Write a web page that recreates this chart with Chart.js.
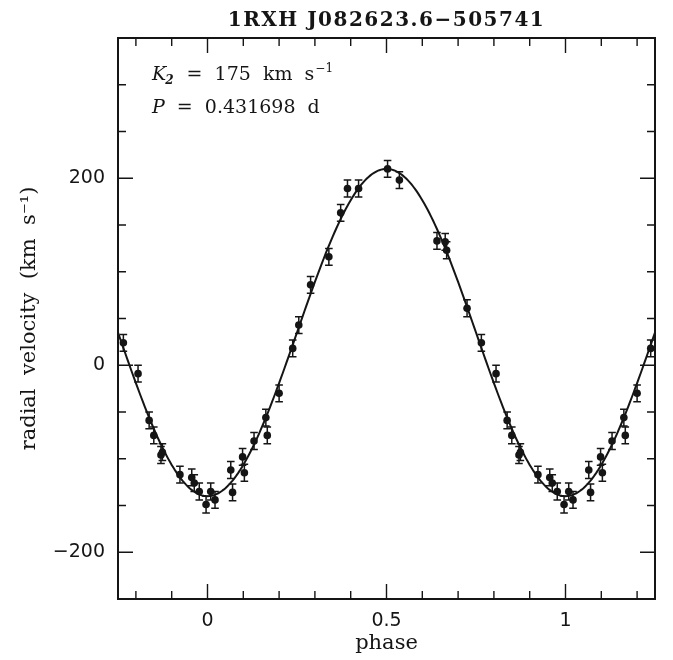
<!DOCTYPE html>
<html>
<head>
<meta charset="utf-8">
<script src="https://cdn.jsdelivr.net/npm/chart.js@4.4.0/dist/chart.umd.min.js"></script>
<style>
  html, body { margin: 0; padding: 0; background: #fff; }
  #wrap { width: 673px; height: 660px; }
</style>
</head>
<body>
<div id="wrap"><canvas id="rv"></canvas></div>
<script>
// orbital phase of each spectrum (folded into 0..1) and its radial velocity
const phases = [0.009, 0.021, 0.065, 0.070, 0.098, 0.103, 0.130, 0.163, 0.167, 0.200,
                0.238, 0.255, 0.288, 0.339, 0.372, 0.391, 0.422, 0.503, 0.536, 0.641,
                0.664, 0.668, 0.725, 0.765, 0.806, 0.837, 0.850, 0.870, 0.874, 0.923,
                0.956, 0.963, 0.977, 0.996];
const velocities = [-135, -144, -112, -136, -98, -115, -81, -56, -75, -30,
                    18, 43, 86, 116, 163, 189, 189, 210, 198, 133,
                    132, 123, 61, 24, -9, -59, -75, -96, -93, -117,
                    -120, -126, -135, -149];
const errors = [9, 9, 9, 9, 9, 9, 9, 9, 9, 9,
                9, 9, 9, 9, 9, 9, 9, 9, 9, 9,
                9, 9, 9, 9, 9, 9, 9, 9, 9, 9,
                9, 9, 9, 9];

// sine fit: v = gamma - K2 cos(2 pi phase)
const gamma = 35;
const K2 = 175;

const xMajor = [0, 0.5, 1];
const xMinor = [-0.2, -0.1, 0.1, 0.2, 0.3, 0.4, 0.6, 0.7, 0.8, 0.9, 1.1, 1.2];
const yMajor = [-200, 0, 200];
const yMinor = [-150, -100, -50, 50, 100, 150, 250, 300];

const title = '1RXH J082623.6\u2212505741';
const serif = '"DejaVu Serif", serif';
const sans = '"DejaVu Sans", sans-serif';
const ink = '#151515';

// plot each point once more one cycle earlier / later if it falls in -0.25..1.25
const pts = [];
phases.forEach(function (p, i) {
  [p - 1, p, p + 1].forEach(function (q) {
    if (q >= -0.25 && q <= 1.25) pts.push({ x: q, y: velocities[i], e: errors[i] });
  });
});

const fit = [];
for (let i = 0; i <= 300; i++) {
  const q = -0.25 + i * 1.5 / 300;
  fit.push({ x: q, y: gamma - K2 * Math.cos(2 * Math.PI * q) });
}

const frame = {
  id: 'frame',
  beforeDatasetsDraw(chart) {
    const ctx = chart.ctx, x = chart.scales.x, y = chart.scales.y;
    ctx.save();
    ctx.strokeStyle = ink;
    ctx.lineWidth = 1.5;
    pts.forEach(function (p) {
      const px = x.getPixelForValue(p.x);
      const top = y.getPixelForValue(p.y + p.e);
      const bot = y.getPixelForValue(p.y - p.e);
      ctx.beginPath();
      ctx.moveTo(px, top); ctx.lineTo(px, bot);
      ctx.moveTo(px - 3.8, top); ctx.lineTo(px + 3.8, top);
      ctx.moveTo(px - 3.8, bot); ctx.lineTo(px + 3.8, bot);
      ctx.stroke();
    });
    ctx.restore();
  },
  afterDraw(chart) {
    const ctx = chart.ctx, a = chart.chartArea;
    const x = chart.scales.x, y = chart.scales.y;
    ctx.save();
    ctx.strokeStyle = ink;
    ctx.lineWidth = 2;
    ctx.strokeRect(a.left, a.top, a.right - a.left, a.bottom - a.top);

    ctx.lineWidth = 1.4;
    ctx.beginPath();
    function xt(v, len) {
      const px = x.getPixelForValue(v);
      ctx.moveTo(px, a.bottom); ctx.lineTo(px, a.bottom - len);
      ctx.moveTo(px, a.top); ctx.lineTo(px, a.top + len);
    }
    function yt(v, len) {
      const py = y.getPixelForValue(v);
      ctx.moveTo(a.left, py); ctx.lineTo(a.left + len, py);
      ctx.moveTo(a.right, py); ctx.lineTo(a.right - len, py);
    }
    xMajor.forEach(v => xt(v, 15));
    xMinor.forEach(v => xt(v, 8));
    yMajor.forEach(v => yt(v, 15));
    yMinor.forEach(v => yt(v, 8));
    ctx.stroke();

    // title
    ctx.fillStyle = ink;
    ctx.font = 'bold 20px ' + serif;
    ctx.letterSpacing = '1.5px';
    ctx.textAlign = 'center';
    ctx.textBaseline = 'alphabetic';
    ctx.fillText(title, (a.left + a.right) / 2, 26);
    ctx.letterSpacing = '0px';

    // annotations
    ctx.textAlign = 'left';
    let cx = 152;
    ctx.font = 'italic 19px ' + serif;
    ctx.fillText('K', cx, 80);
    cx += ctx.measureText('K').width;
    ctx.font = 'italic bold 12px ' + serif;
    ctx.fillText('2', cx - 1, 84);
    cx += ctx.measureText('2').width;
    ctx.font = '19px ' + serif;
    ctx.fillText('  =  175  km  s', cx, 80);
    cx += ctx.measureText('  =  175  km  s').width;
    ctx.font = '12px ' + serif;
    ctx.fillText('\u22121', cx + 1, 72);

    cx = 152;
    ctx.font = 'italic 19px ' + serif;
    ctx.fillText('P', cx, 113);
    cx += ctx.measureText('P').width;
    ctx.font = '19px ' + serif;
    ctx.fillText('  =  0.431698  d', cx, 113);
    ctx.restore();
  }
};

new Chart(document.getElementById('rv'), {
  type: 'scatter',
  data: {
    datasets: [
      {
        data: pts,
        pointRadius: 3.8,
        pointBackgroundColor: ink,
        pointBorderWidth: 0,
        showLine: false
      },
      {
        data: fit,
        showLine: true,
        pointRadius: 0,
        borderColor: ink,
        borderWidth: 2,
        tension: 0
      }
    ]
  },
  options: {
    responsive: true,
    maintainAspectRatio: false,
    animation: false,
    layout: { padding: { top: 38, right: 18, left: 0, bottom: 0 } },
    plugins: { legend: { display: false }, tooltip: { enabled: false } },
    scales: {
      x: {
        type: 'linear',
        min: -0.25,
        max: 1.25,
        afterBuildTicks: s => { s.ticks = xMajor.map(v => ({ value: v })); },
        afterFit: s => { s.height = 61; },
        grid: { display: false, drawTicks: false },
        border: { display: false },
        ticks: { autoSkip: false, maxRotation: 0, padding: 11, color: ink,
                 font: { family: sans, size: 19 }, callback: v => String(v) },
        title: { display: true, text: 'phase', color: ink,
                 font: { family: serif, size: 21 }, padding: { top: 0, bottom: 4 } }
      },
      y: {
        type: 'linear',
        min: -250,
        max: 350,
        afterBuildTicks: s => { s.ticks = yMajor.map(v => ({ value: v })); },
        afterFit: s => { s.width = 118; },
        grid: { display: false, drawTicks: false },
        border: { display: false },
        ticks: { autoSkip: false, padding: 13, color: ink,
                 font: { family: sans, size: 19 },
                 callback: v => v < 0 ? '\u2212' + Math.abs(v) : String(v) },
        title: { display: true, text: 'radial  velocity  (km  s\u207B\u00B9)', color: ink,
                 font: { family: serif, size: 21 }, padding: { top: 17, bottom: 0 } }
      }
    }
  },
  plugins: [frame]
});
</script>
</body>
</html>
